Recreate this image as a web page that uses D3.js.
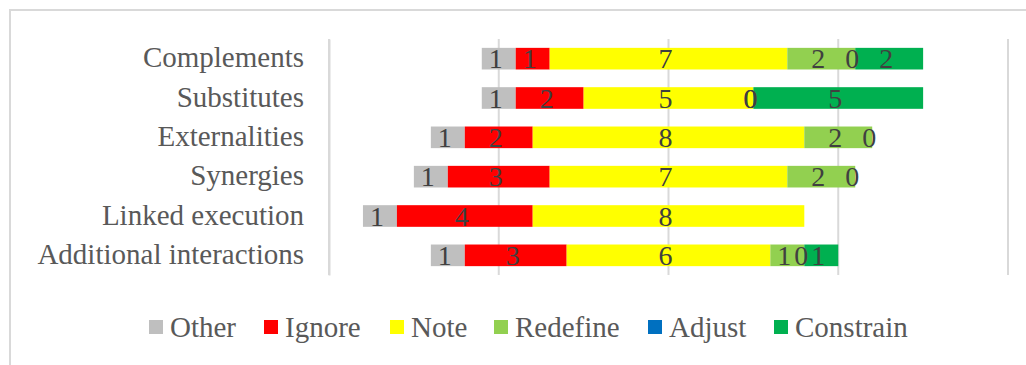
<!DOCTYPE html>
<html>
<head>
<meta charset="utf-8">
<script src="https://cdn.jsdelivr.net/npm/d3@7"></script>
<style>
  body { margin: 0; background: #fff; }
  svg { display: block; font-family: "Liberation Serif", "Times New Roman", serif; }
  .grid line { stroke: #d9d9d9; stroke-width: 2px; }
  .lbl { fill: #404040; font-size: 28px; text-anchor: middle; }
  .legend text { fill: #595959; font-size: 29px; }
</style>
</head>
<body>
<svg id="chart" width="1026" height="365"></svg>
<script>
// categories, top to bottom
const categories = ["Complements", "Substitutes", "Externalities", "Synergies", "Linked execution", "Additional interactions"];
const seriesNames = ["Other", "Ignore", "Note", "Redefine", "Adjust", "Constrain"];
const seriesColors = ["#bfbfbf", "#ff0000", "#ffff00", "#92d050", "#0070c0", "#00b050"];

// values per series, in category order (null = empty cell, no label)
const other     = [1, 1, 1, 1, 1, 1];
const ignore    = [1, 2, 2, 3, 4, 3];
const note      = [7, 5, 8, 7, 8, 6];
const redefine  = [2, 0, 2, 2, null, 1];
const adjust    = [0, 0, 0, 0, null, 0];
const constrain = [2, 5, null, null, null, 1];

const gridTicks = [-10, -5, 0, 5, 10];

const svg = d3.select("#chart");
const margin = {left: 329, right: 18, top: 39, bottom: 90};
const W = 1026, H = 365;

// outer chart border
svg.append("rect")
    .attr("x", 10).attr("y", 10)
    .attr("width", 1030).attr("height", 370)
    .attr("fill", "none").attr("stroke", "#d9d9d9").attr("stroke-width", 2);

const x = d3.scaleLinear().domain([-10, 10]).range([margin.left, W - margin.right]);
const y = d3.scaleBand().domain(categories).range([margin.top, H - margin.bottom])
    .paddingInner(0.45).paddingOuter(0.225);

// rows as objects for stacking
const cols = [other, ignore, note, redefine, adjust, constrain];
const rows = categories.map((c, i) => {
    const r = {cat: c};
    seriesNames.forEach((s, j) => r[s] = cols[j][i]);
    return r;
});

const stacked = d3.stack().keys(seriesNames).value((d, k) => d[k] || 0)(rows);
// centre the "Note" segment on zero
const shift = rows.map(r => r.Other + r.Ignore + r.Note / 2);

// gridlines
svg.append("g").attr("class", "grid")
    .selectAll("line").data(gridTicks).join("line")
    .attr("x1", d => x(d)).attr("x2", d => x(d))
    .attr("y1", margin.top).attr("y2", H - margin.bottom);

const layers = svg.append("g").selectAll("g").data(stacked).join("g")
    .attr("fill", (d, i) => seriesColors[i]);

layers.selectAll("rect").data(d => d).join("rect")
    .attr("x", (d, i) => x(d[0] - shift[i]))
    .attr("width", (d, i) => x(d[1] - shift[i]) - x(d[0] - shift[i]))
    .attr("y", d => y(d.data.cat))
    .attr("height", y.bandwidth());

// data labels
const lbls = svg.append("g");
stacked.forEach(layer => {
    layer.forEach((d, i) => {
        const v = d.data[layer.key];
        if (v === null || v === undefined) return;
        lbls.append("text").attr("class", "lbl")
            .attr("x", x((d[0] + d[1]) / 2 - shift[i]) - 3)
            .attr("y", y(d.data.cat) + y.bandwidth() / 2)
            .attr("dy", "0.35em")
            .text(v);
    });
});

// category axis
const yAxis = svg.append("g")
    .attr("transform", `translate(${margin.left},0)`)
    .call(d3.axisLeft(y).tickSize(0).tickPadding(25))
    .attr("font-family", "'Liberation Serif', 'Times New Roman', serif")
    .attr("font-size", 29);
yAxis.select(".domain").attr("stroke", "#d9d9d9").attr("stroke-width", 2);
yAxis.selectAll("text").attr("fill", "#595959").attr("dy", "0.3em");

// legend
const legendX = [149, 264, 390, 494, 648, 774];
const lg = svg.append("g").attr("class", "legend")
    .selectAll("g").data(seriesNames).join("g")
    .attr("transform", (d, i) => `translate(${legendX[i]},327)`);
lg.append("rect").attr("x", 0).attr("y", -7).attr("width", 14).attr("height", 14)
    .attr("fill", (d, i) => seriesColors[i]);
lg.append("text").attr("x", 21).attr("dy", "0.33em").text(d => d);
</script>
</body>
</html>
